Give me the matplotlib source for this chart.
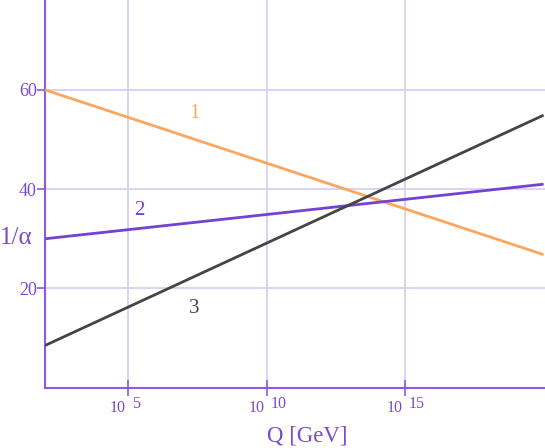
import matplotlib
matplotlib.use("Agg")
import matplotlib.pyplot as plt
from matplotlib.transforms import blended_transform_factory

# running of the inverse couplings, log10(Q / GeV) against 1/alpha
log_q = [2.0, 20.0]
inv_alpha_1 = [60.0, 26.8]
inv_alpha_2 = [30.0, 41.0]
inv_alpha_3 = [8.5, 54.9]

curve_names = ["1", "2", "3"]
label_pos_x = [7.4, 5.4, 7.4]
label_pos_y = [55.3, 35.6, 16.0]

x_tick_exps = [5, 10, 15]
y_ticks = [20, 40, 60]

ORANGE = "#FFA55E"
PURPLE = "#7242D2"
GRAY = "#444444"
TEXT = "#7A4AD0"
GRID = "#D6CAF2"
AXIS = "#8A5AE0"

plt.rcParams["font.family"] = ["Liberation Serif", "DejaVu Serif"]

fig = plt.figure(figsize=(5.45, 4.48), dpi=100)
ax = fig.add_axes([45 / 545, 60.3 / 448, 500 / 545, 387.7 / 448])

colors = [ORANGE, PURPLE, GRAY]
for ys, c in zip([inv_alpha_1, inv_alpha_2, inv_alpha_3], colors):
    ax.plot(log_q, ys, color=c, lw=2.0, solid_capstyle="butt", zorder=3)

for name, x, y, c in zip(curve_names, label_pos_x, label_pos_y, colors):
    ax.text(x, y, name, color=c, fontsize=15, ha="center", va="center")

ax.set_xlim(2.0, 20.05)
ax.set_ylim(0, 78.1)

ax.set_xticks(x_tick_exps)
ax.set_xticklabels([])
ax.set_yticks(y_ticks)
ax.set_yticklabels([str(v) for v in y_ticks], color=TEXT, fontsize=13)
ax.grid(True, color=GRID, lw=1.2, zorder=0)
ax.tick_params(axis="y", direction="out", length=6, width=1.2, color=AXIS, pad=0)
ax.tick_params(axis="x", direction="inout", length=12, width=1.2, color=AXIS)

for side in ["top", "right"]:
    ax.spines[side].set_visible(False)
for side in ["left", "bottom"]:
    ax.spines[side].set_color(AXIS)
    ax.spines[side].set_linewidth(1.5)

# tick labels drawn as "10" with a raised exponent
trans = blended_transform_factory(ax.transData, ax.transAxes)
for e in x_tick_exps:
    ax.annotate("10", xy=(e, 0), xycoords=trans, xytext=(-2, -24),
                textcoords="offset pixels", ha="right", va="baseline",
                color=TEXT, fontsize=11.5)
    ax.annotate(str(e), xy=(e, 0), xycoords=trans, xytext=(4, -20),
                textcoords="offset pixels", ha="left", va="baseline",
                color=TEXT, fontsize=11.5)

fig.text(16 / 545, 1 - 238 / 448, "1/\u03b1", color=TEXT, fontsize=18,
         ha="center", va="center")
fig.text(307 / 545, 1 - 436 / 448, "Q [GeV]", color=TEXT, fontsize=16.5,
         ha="center", va="center")

fig.savefig("out.png", dpi=100, facecolor="white")
